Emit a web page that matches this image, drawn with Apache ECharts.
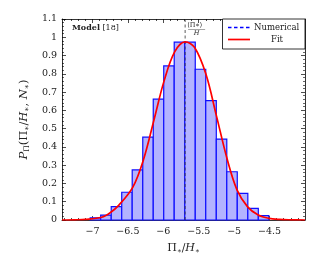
<!DOCTYPE html>
<html><head><meta charset="utf-8">
<script src="https://cdn.jsdelivr.net/npm/echarts@6/dist/echarts.min.js"></script>
<style>html,body{margin:0;padding:0;background:#fff}#c{width:316px;height:268px}</style>
</head><body><div id="c"></div>
<script>
// histogram bins (edges) and normalised heights
const binEdges = [-7.032, -6.884, -6.735, -6.587, -6.439, -6.290, -6.142, -5.994, -5.846, -5.697, -5.549, -5.401, -5.252, -5.104, -4.956, -4.807, -4.659, -4.511];
const binHeights = [0.012, 0.027, 0.073, 0.152, 0.274, 0.453, 0.661, 0.843, 0.973, 0.973, 0.825, 0.653, 0.443, 0.264, 0.146, 0.064, 0.024];
// fit curve
const fitX = [-7.43, -7.25, -7.10, -6.87, -6.75, -6.63, -6.43, -6.28, -6.13, -5.99, -5.84, -5.69, -5.56, -5.40, -5.25, -5.10, -4.96, -4.81, -4.66, -4.51, -4.36, -4.20, -4.00];
const fitY = [0, 0.001, 0.003, 0.015, 0.04, 0.08, 0.18, 0.33, 0.55, 0.76, 0.92, 0.975, 0.945, 0.80, 0.57, 0.335, 0.165, 0.072, 0.027, 0.009, 0.003, 0.001, 0];
const meanValue = -5.692;
const xTickValues = [-7, -6.5, -6, -5.5, -5, -4.5];
const xMinorValues = [-7.4, -7.3, -7.2, -7.1, -6.9, -6.8, -6.7, -6.6, -6.4, -6.3, -6.2, -6.1, -5.9, -5.8, -5.7, -5.6, -5.4, -5.3, -5.2, -5.1, -4.9, -4.8, -4.7, -4.6, -4.4, -4.3, -4.2, -4.1];
const xMin = -7.43, xMax = -4.0, yMin = 0, yMax = 1.1, yStep = 0.1;

const serif = 'DejaVu Serif';
const fmtX = v => String(v).replace('-', '\u2212');
const fmtY = v => String(parseFloat(v.toFixed(1)));

const chart = echarts.init(document.getElementById('c'), null, {renderer: 'canvas'});
const axisLineStyle = {color: '#000', width: 0.8};
function xAxisDef(pos, values, len, labels, line) {
  return {
    type: 'value', min: xMin, max: xMax, position: pos,
    axisLine: {show: line, onZero: false, lineStyle: axisLineStyle},
    axisTick: {show: true, inside: true, length: len, customValues: values, lineStyle: {color: '#000', width: 0.7}},
    axisLabel: labels ? {show: true, customValues: values, formatter: fmtX, fontFamily: serif, fontSize: 9.5, color: '#222', margin: 7} : {show: false},
    splitLine: {show: false}
  };
}
const xAxes = [
  xAxisDef('bottom', xTickValues, 4, true, true),
  xAxisDef('bottom', xMinorValues, 2, false, false),
  xAxisDef('top', xTickValues, 4, false, true),
  xAxisDef('top', xMinorValues, 2, false, false)
];
xAxes[0].name = '{n|\u03A0}{s|\u2217}{n|/}{i|H}{s|\u2217}';
xAxes[0].nameLocation = 'middle';
xAxes[0].nameGap = 22;
xAxes[0].nameTextStyle = {
  rich: {
    n: {fontFamily: serif, fontSize: 11, color: '#222'},
    i: {fontFamily: serif, fontSize: 11, fontStyle: 'italic', color: '#222'},
    s: {fontFamily: serif, fontSize: 7, color: '#222', verticalAlign: 'bottom', padding: [6, 0, 0, 0]}
  }
};
function yAxisDef(pos, labels) {
  return {
    type: 'value', min: yMin, max: yMax, interval: yStep, position: pos,
    axisLine: {show: true, onZero: false, lineStyle: axisLineStyle},
    axisTick: {show: true, inside: true, length: 4, lineStyle: {color: '#000', width: 0.7}},
    minorTick: {show: true, splitNumber: 5, length: 2, lineStyle: {color: '#000', width: 0.6}},
    axisLabel: labels ? {show: true, formatter: fmtY, fontFamily: serif, fontSize: 9.5, color: '#222', margin: 5} : {show: false},
    splitLine: {show: false}
  };
}
const yAxes = [yAxisDef('left', true), yAxisDef('right', false)];
yAxes[0].name = '{i|P}{s|\u03A0}{n|(\u03A0}{s|\u2217}{n|/}{i|H}{s|\u2217}{n|, }{i|N}{s|\u2217}{n|)}';
yAxes[0].nameLocation = 'middle';
yAxes[0].nameGap = 19;
yAxes[0].nameTextStyle = {
  rich: {
    n: {fontFamily: serif, fontSize: 11.5, color: '#222'},
    i: {fontFamily: serif, fontSize: 11.5, fontStyle: 'italic', color: '#222'},
    s: {fontFamily: serif, fontSize: 7.5, color: '#222', verticalAlign: 'bottom', padding: [6, 0, 0, 0]}
  }
};

const barData = binHeights.map((h, i) => [binEdges[i], binEdges[i + 1], h]);
const fitData = fitX.map((x, i) => [x, fitY[i]]);

chart.setOption({
  animation: false,
  grid: {left: 62, right: 11, top: 19, bottom: 48, containLabel: false},
  xAxis: xAxes,
  yAxis: yAxes,
  series: [
    {
      type: 'custom', xAxisIndex: 0, yAxisIndex: 0, data: barData,
      encode: {x: [0, 1], y: 2},
      renderItem: function (params, api) {
        const p0 = api.coord([api.value(0), 0]);
        const p1 = api.coord([api.value(1), api.value(2)]);
        return {type: 'rect', shape: {x: p0[0], y: p1[1], width: p1[0] - p0[0], height: p0[1] - p1[1]},
          style: {fill: '#b3b3ff', stroke: '#0f0fff', lineWidth: 1.2}};
      },
      silent: true, z: 2
    },
    {
      type: 'line', xAxisIndex: 0, yAxisIndex: 0, data: [[meanValue, yMin], [meanValue, yMax]],
      symbol: 'none', lineStyle: {color: '#333', width: 0.8, type: [3, 2.5]}, silent: true, z: 3
    },
    {
      type: 'line', xAxisIndex: 0, yAxisIndex: 0, data: fitData, smooth: 0.35,
      symbol: 'none', lineStyle: {color: '#ff0000', width: 1.7}, silent: true, z: 4
    }
  ]
});

const mx = chart.convertToPixel({xAxisIndex: 0}, meanValue);
const ty = chart.convertToPixel({yAxisIndex: 0}, yMax);
const gr = chart.convertToPixel({xAxisIndex: 0}, xMax);
chart.setOption({
  graphic: [
    {type: 'text', left: 72, top: ty + 5, z: 10,
      style: {text: '{b|Model} [18]', fontFamily: serif, fontSize: 8, fill: '#222',
        rich: {b: {fontFamily: serif, fontSize: 8, fontWeight: 'bold', fill: '#222'}}}},
    {type: 'text', x: mx + 2, y: ty + 6, z: 10,
      style: {text: '\u27E8\u03A0\u2217\u27E9', fontFamily: serif, fontSize: 6.5, fill: '#222', verticalAlign: 'middle'}},
    {type: 'line', z: 10, shape: {x1: mx + 3, y1: ty + 10.5, x2: mx + 20, y2: ty + 10.5}, style: {stroke: '#222', lineWidth: 0.4}},
    {type: 'text', x: mx + 11.5, y: ty + 14.5, z: 10,
      style: {text: 'H', fontFamily: serif, fontSize: 6.5, fontStyle: 'italic', fill: '#222', align: 'center', verticalAlign: 'middle'}},
    {type: 'rect', z: 10, shape: {x: 222.5, y: ty, width: gr - 222.5, height: 30},
      style: {fill: '#fff', stroke: '#000', lineWidth: 0.8}},
    {type: 'line', z: 11, shape: {x1: 228, y1: ty + 8.5, x2: 250, y2: ty + 8.5}, style: {stroke: '#0000ff', lineWidth: 1.3, lineDash: [3.5, 2.5]}},
    {type: 'text', z: 11, x: 254, y: ty + 8.5, style: {text: 'Numerical', fontFamily: serif, fontSize: 8.5, fill: '#222', verticalAlign: 'middle'}},
    {type: 'line', z: 11, shape: {x1: 228, y1: ty + 20.5, x2: 250, y2: ty + 20.5}, style: {stroke: '#ff0000', lineWidth: 1.7}},
    {type: 'text', z: 11, x: 277, y: ty + 20.5, style: {text: 'Fit', fontFamily: serif, fontSize: 8.5, fill: '#222', align: 'center', verticalAlign: 'middle'}}
  ]
});
</script>
</body></html>
